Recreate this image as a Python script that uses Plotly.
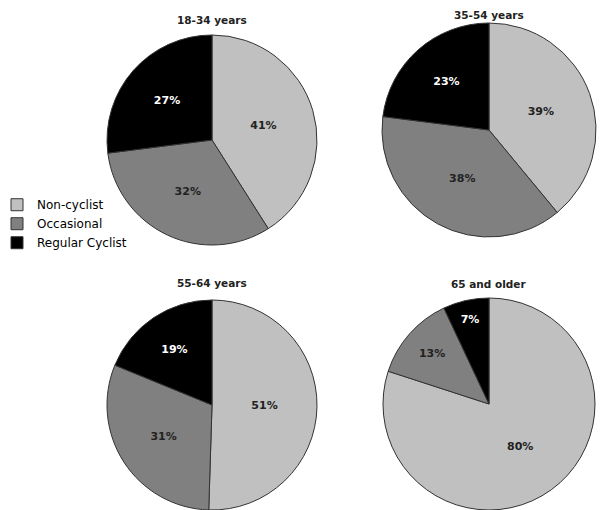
import plotly.graph_objects as go

categories = ["Non-cyclist", "Occasional", "Regular Cyclist"]
groups = ["18-34 years", "35-54 years", "55-64 years", "65 and older"]
values = {
    "18-34 years": [41, 32, 27],
    "35-54 years": [39, 38, 23],
    "55-64 years": [51, 31, 19],
    "65 and older": [80, 13, 7],
}
colors = ["#c0c0c0", "#808080", "#000000"]
text_colors = ["#222222", "#222222", "#ffffff"]

W, H = 600, 510
# pie centers (px) and radius
layout_px = {
    "18-34 years": (212, 140, 105),
    "35-54 years": (489, 130, 107),
    "55-64 years": (212, 405, 105),
    "65 and older": (489, 404, 106),
}
title_y = {"18-34 years": 20, "35-54 years": 15, "55-64 years": 283, "65 and older": 284}

fig = go.Figure()
annotations = []
for i, g in enumerate(groups):
    cx, cy, r = layout_px[g]
    fig.add_trace(go.Pie(
        labels=categories,
        values=values[g],
        sort=False,
        direction="clockwise",
        rotation=0,
        marker=dict(colors=colors, line=dict(color="#333333", width=1)),
        texttemplate="%{value}%",
        textposition="inside",
        insidetextorientation="horizontal",
        textfont=dict(family="DejaVu Sans", size=11, color=text_colors, weight="bold"),
        domain=dict(x=[(cx - r) / W, (cx + r) / W], y=[(H - cy - r) / H, (H - cy + r) / H]),
        showlegend=(i == 0),
        hoverinfo="label+percent",
    ))
    annotations.append(dict(
        text="<b>%s</b>" % g, x=cx / W, y=1 - title_y[g] / H, xref="paper", yref="paper",
        showarrow=False, xanchor="center", yanchor="middle",
        font=dict(family="DejaVu Sans", size=10.5, color="#222222"),
    ))

fig.update_layout(
    width=W, height=H,
    margin=dict(l=0, r=0, t=0, b=0, autoexpand=False),
    paper_bgcolor="white",
    plot_bgcolor="white",
    annotations=annotations,
    legend=dict(
        x=-0.005, y=0.627, xanchor="left", yanchor="top",
        bgcolor="rgba(0,0,0,0)",
        font=dict(family="DejaVu Sans", size=12, color="#000000"),
        tracegroupgap=0, itemwidth=30,
        traceorder="normal",
    ),
)
fig.write_html("out.html")
